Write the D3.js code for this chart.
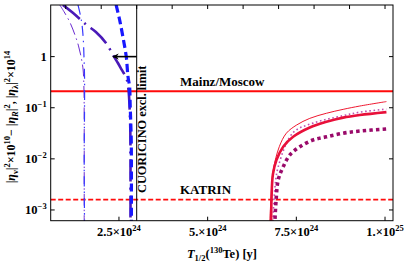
<!DOCTYPE html>
<head>
  <meta charset="utf-8">
  <title>eta vs T1/2</title>
  <script src="https://d3js.org/d3.v7.min.js"></script>
  <style>
    body { margin:0; background:#fff; }
    svg { display:block; font-family:"Liberation Serif", serif; }
    text { font-weight:bold; }
  </style>
</head>

<body>
  <svg width="409" height="264"></svg>
  <script>
    // half-life in units of 1e24 y, value on log axis
    var xTicks = [2.5, 5, 7.5, 10];
    var xTickLabels = ['2.5', '5.', '7.5', '1.'];
    var xTickExps = ['24', '24', '24', '25'];
    var topTicks = [1, 2, 3, 4, 5, 6, 7, 8, 9, 10];
    var yTicks = [1, 0.1, 0.01, 0.001];

    var mainzLimit = 0.21;
    var katrinLimit = 0.0016;
    var cuoricinoLimit = 3.0;

    var blueDashed = [[2.42, 10.3], [2.52, 5.2], [2.61, 2.46], [2.706, 1], [2.754, 0.41], [2.80, 0.26],
      [2.815, 0.124], [2.83, 0.058], [2.845, 0.027], [2.85, 0.012], [2.85, 0.0005]];
    var purpleDashDot = [[0.92, 10.3], [1.2, 7.2], [1.58, 4.2], [1.85, 3.04], [2.14, 1.83], [2.33, 1.08],
      [2.47, 0.75], [2.58, 0.55], [2.71, 0.38], [2.77, 0.22], [2.80, 0.10], [2.82, 0.037], [2.825, 0.0005]];
    var blueThinDashDot = [[1.345, 10.3], [1.44, 5.2], [1.49, 2.46], [1.514, 1], [1.53, 0.4], [1.53, 0.1],
      [1.52, 0.01], [1.53, 0.0005]];
    var purpleThinDashDot = [[0.83, 10.3], [0.95, 7.6], [1.11, 4.8], [1.26, 2.66], [1.36, 1.62], [1.44, 0.93],
      [1.49, 0.55], [1.514, 0.22], [1.52, 0.05], [1.52, 0.0005]];

    var redThin = [[6.75, 0.0005], [6.79, 0.002], [6.85, 0.0061], [7.02, 0.0173], [7.22, 0.0318], [7.51, 0.046],
      [7.88, 0.062], [8.35, 0.078], [8.82, 0.093], [9.29, 0.108], [10.04, 0.132]];
    var redThick = [[6.79, 0.0005], [6.80, 0.0016], [6.84, 0.005], [6.94, 0.0095], [7.13, 0.0173], [7.41, 0.027],
      [7.88, 0.041], [8.35, 0.053], [8.82, 0.064], [9.29, 0.072], [10.04, 0.082]];
    var purpleThinDotted = [[6.84, 0.0005], [6.88, 0.002], [6.99, 0.007], [7.41, 0.0326], [7.97, 0.050],
      [8.82, 0.070], [9.29, 0.082], [10.04, 0.094]];
    var purpleThickDotted = [[6.89, 0.0005], [6.93, 0.0016], [6.99, 0.0039], [7.13, 0.007], [7.32, 0.012],
      [7.60, 0.0173], [7.97, 0.0234], [8.35, 0.027], [8.82, 0.0318], [9.29, 0.035], [10.04, 0.0385]];

    var svg = d3.select('svg');
    var pL = 50.7, pR = 393, pT = 5, pB = 220.7;

    var x = d3.scaleLinear().domain([0.576, 10.225]).range([pL, pR]);
    var y = d3.scaleLog().domain([Math.pow(10, -3.21), Math.pow(10, 1.01)]).range([pB, pT]);

    var defs = svg.append('defs');
    defs.append('clipPath').attr('id', 'clip')
      .append('rect').attr('x', pL).attr('y', pT)
      .attr('width', pR - pL).attr('height', pB - pT);

    var plot = svg.append('g').attr('clip-path', 'url(#clip)');

    var line = d3.line()
      .x(d => x(d[0]))
      .y(d => y(d[1]))
      .curve(d3.curveCatmullRom);

    // horizontal limits
    plot.append('line')
      .attr('x1', pL).attr('x2', pR)
      .attr('y1', y(mainzLimit)).attr('y2', y(mainzLimit))
      .attr('stroke', '#ff0a0a').attr('stroke-width', 1.8);
    plot.append('line')
      .attr('x1', pL).attr('x2', pR)
      .attr('y1', y(katrinLimit)).attr('y2', y(katrinLimit))
      .attr('stroke', '#ff0a0a').attr('stroke-width', 1.7)
      .attr('stroke-dasharray', '5,2.5');

    var series = [
      { d: purpleThinDashDot, c: '#6a2ad0', w: 1, dash: '12,4,1.5,4' },
      { d: blueThinDashDot, c: '#3838ff', w: 1.2, dash: '10,5,1.5,5' },
      { d: purpleDashDot, c: '#4a1ab8', w: 2.6, dash: '22,6,2,6' },
      { d: blueDashed, c: '#1818ff', w: 3.2, dash: '8,4' },
      { d: redThin, c: '#ee1830', w: 1, dash: null },
      { d: purpleThinDotted, c: '#c050b0', w: 1.6, dash: '1.6,2.6' },
      { d: purpleThickDotted, c: '#9a0a6a', w: 3.6, dash: '3.4,3.2' },
      { d: redThick, c: '#e8103a', w: 2.6, dash: null }
    ];

    plot.selectAll('path.curve')
      .data(series)
      .enter().append('path')
      .attr('class', 'curve')
      .attr('d', s => line(s.d))
      .attr('fill', 'none')
      .attr('stroke', s => s.c)
      .attr('stroke-width', s => s.w)
      .attr('stroke-dasharray', s => s.dash);

    // CUORICINO vertical line and arrow
    svg.append('line')
      .attr('x1', x(cuoricinoLimit)).attr('x2', x(cuoricinoLimit))
      .attr('y1', pT).attr('y2', pB)
      .attr('stroke', '#000').attr('stroke-width', 1);

    defs.append('marker')
      .attr('id', 'head').attr('viewBox', '0 0 10 10')
      .attr('refX', 9).attr('refY', 5)
      .attr('markerWidth', 4).attr('markerHeight', 4)
      .attr('orient', 'auto')
      .append('path').attr('d', 'M0,0 L10,5 L0,10 L3,5 Z').attr('fill', '#000');

    svg.append('line')
      .attr('x1', x(cuoricinoLimit)).attr('x2', x(2.33))
      .attr('y1', y(1)).attr('y2', y(1))
      .attr('stroke', '#000').attr('stroke-width', 1.6)
      .attr('marker-end', 'url(#head)');

    svg.append('text')
      .attr('transform', 'translate(' + (x(cuoricinoLimit) + 9.5) + ',' + 193 + ') rotate(-90)')
      .attr('font-size', 12.3)
      .text('CUORICINO excl. limit');

    svg.append('text').attr('x', 180).attr('y', 86).attr('font-size', 13).text('Mainz/Moscow');
    svg.append('text').attr('x', 180).attr('y', 194).attr('font-size', 13).text('KATRIN');

    // frame
    svg.append('rect')
      .attr('x', pL).attr('y', pT)
      .attr('width', pR - pL).attr('height', pB - pT)
      .attr('fill', 'none').attr('stroke', '#000').attr('stroke-width', 1);

    // ticks (inward)
    var tickG = svg.append('g').attr('stroke', '#000').attr('stroke-width', 1);
    tickG.selectAll('.xb').data(xTicks).enter().append('line')
      .attr('x1', d => x(d)).attr('x2', d => x(d))
      .attr('y1', pB).attr('y2', pB - 4);
    tickG.selectAll('.xt').data(topTicks).enter().append('line')
      .attr('x1', d => x(d)).attr('x2', d => x(d))
      .attr('y1', pT).attr('y2', pT + 4);
    tickG.selectAll('.yl').data(yTicks).enter().append('line')
      .attr('x1', pL).attr('x2', pL + 4)
      .attr('y1', d => y(d)).attr('y2', d => y(d));
    tickG.selectAll('.yr').data(yTicks).enter().append('line')
      .attr('x1', pR).attr('x2', pR - 4)
      .attr('y1', d => y(d)).attr('y2', d => y(d));

    // x tick labels
    var xl = svg.selectAll('.xlab').data(xTicks).enter().append('text')
      .attr('x', d => x(d)).attr('y', 236)
      .attr('text-anchor', 'middle').attr('font-size', 12.5);
    xl.append('tspan').text((d, i) => xTickLabels[i] + '\u00d710');
    xl.append('tspan').attr('dy', -5).attr('font-size', 8.5).text((d, i) => xTickExps[i]);

    // y tick labels
    var yl = svg.selectAll('.ylab').data(yTicks).enter().append('text')
      .attr('x', pL - 4).attr('y', d => y(d) + 4)
      .attr('text-anchor', 'end').attr('font-size', 12.5);
    yl.each(function(d) {
      var t = d3.select(this);
      if (d === 1) { t.text('1'); return; }
      t.append('tspan').text('10');
      t.append('tspan').attr('dy', -5).attr('font-size', 8.5).text('\u2212' + Math.round(-Math.log10(d)));
    });

    // axis titles
    var xt = svg.append('text').attr('x', 222).attr('y', 258)
      .attr('text-anchor', 'middle').attr('font-size', 12.5);
    xt.append('tspan').attr('font-style', 'italic').text('T');
    xt.append('tspan').attr('dy', 3).attr('font-size', 8.5).text('1/2');
    xt.append('tspan').attr('dy', -3).text('(');
    xt.append('tspan').attr('dy', -5).attr('font-size', 8.5).text('130');
    xt.append('tspan').attr('dy', 5).text('Te) [y]');

    var yt = svg.append('text')
      .attr('transform', 'translate(15,117) rotate(-90)')
      .attr('text-anchor', 'middle').attr('font-size', 12);
    var parts = [
      ['|', 0, 1], ['\u03b7', 0, 1, 'italic'], ['\u03bd', 3, 0], ['|', -3, 1], ['2', -5, 0], ['\u00d710', 5, 1], ['10', -5, 0],
      ['\u2212 |', 5, 1], ['\u03b7', 0, 1, 'italic'], ['R', 3, 0, 'italic'], ['|', -3, 1], ['2', -5, 0], [', |', 5, 1],
      ['\u03b7', 0, 1, 'italic'], ['\u03bb', 3, 0], ['|', -3, 1], ['2', -5, 0], ['\u00d710', 5, 1], ['14', -5, 0]
    ];
    parts.forEach(function(p) {
      yt.append('tspan').attr('dy', p[1]).attr('font-size', p[2] ? 12 : 8.5)
        .attr('font-style', p[3] || null).text(p[0]);
    });
  </script>
</body>
